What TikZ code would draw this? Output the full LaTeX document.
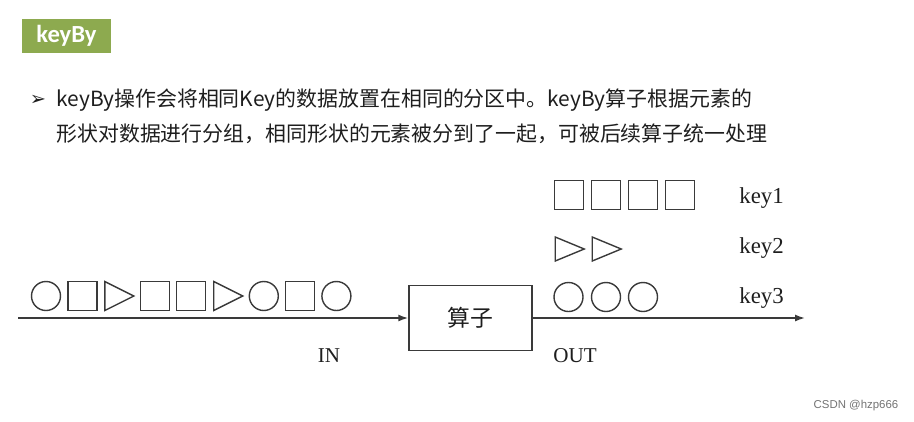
\documentclass[tikz,border=0pt]{standalone}
\usepackage{fontspec}
\setmainfont{Liberation Serif}
\newfontfamily\cjk{Noto Sans CJK SC}
\newfontfamily\tagfont{Carlito}
\newfontfamily\symfont{DejaVu Sans}
\newfontfamily\markfont{Liberation Sans}
\usepackage{tikz}
\usetikzlibrary{shapes.geometric,arrows.meta,positioning}
\definecolor{tagGreen}{HTML}{8DAA4F}
\definecolor{inkGray}{HTML}{3A3A3A}
\definecolor{textInk}{HTML}{1E1E1E}

\begin{document}
\begin{tikzpicture}[
  elcirc/.style={circle,draw=inkGray,line width=0.8pt,minimum size=0.58cm,inner sep=0pt},
  elsq/.style={rectangle,draw=inkGray,line width=0.8pt,minimum size=0.58cm,inner sep=0pt},
  eltri/.style={isosceles triangle,isosceles triangle stretches,draw=inkGray,
    line width=0.8pt,minimum width=0.58cm,minimum height=0.58cm,inner sep=0pt,
    anchor=west,xshift=-0.29cm},
  keylabel/.style={anchor=west,inner sep=0pt,text=textInk,font=\fontsize{13}{15}\selectfont},
  flow/.style={draw=inkGray,line width=0.85pt,-{Latex[length=2mm,width=1.4mm]}}
]
\useasboundingbox (0,0) rectangle (18.28,-8.42);

% Title tag and text
\node[fill=tagGreen,minimum width=1.78cm,minimum height=0.68cm,inner sep=0pt,text=white,
  font=\tagfont\bfseries\fontsize{14}{16}\selectfont] (tag) at (1.33,-0.72) {keyBy};
\node[inner sep=0pt,text=textInk,font=\symfont\bfseries\fontsize{11}{13}\selectfont] (bullet) at (0.76,-2.0) {➢};
\node[anchor=west,inner sep=0pt,text=textInk,font=\cjk\fontsize{11.9}{14}\selectfont] (line1) at (1.12,-2.0)
  {keyBy操作会将相同Key的数据放置在相同的分区中。keyBy算子根据元素的};
\node[anchor=west,inner sep=0pt,text=textInk,font=\cjk\fontsize{11.9}{14}\selectfont] (line2) at (1.12,-2.68)
  {形状对数据进行分组，相同形状的元素被分到了一起，可被后续算子统一处理};

% Input stream
\foreach \s [count=\i] in {elcirc,elsq,eltri,elsq,elsq,eltri,elcirc,elsq,elcirc}
  \node[\s] (in\i) at ({0.92+(\i-1)*0.726},-5.92) {};

% Operator
\coordinate (start) at (0.36,-6.36);
\coordinate (stop) at (16.10,-6.36);
\node[draw=inkGray,line width=0.85pt,minimum width=2.46cm,minimum height=1.30cm,
  font=\cjk\fontsize{13}{15}\selectfont,text=textInk] (op) at (9.41,-6.36) {算子};
\draw[flow] (start) -- (op.west);
\draw[flow] (op.east) -- (stop);
\node[text=textInk,font=\fontsize{12}{14}\selectfont] (inlbl) at (6.58,-7.12) {IN};
\node[text=textInk,font=\fontsize{12}{14}\selectfont] (outlbl) at (11.50,-7.12) {OUT};

% Output groups
\node[elsq] (ka1) at (11.38,-3.90) {};
\node[elsq] (ka2) at (12.12,-3.90) {};
\node[elsq] (ka3) at (12.86,-3.90) {};
\node[elsq] (ka4) at (13.60,-3.90) {};
\node[eltri,minimum width=0.48cm] (kb1) at (11.38,-4.98) {};
\node[eltri,minimum width=0.48cm] (kb2) at (12.12,-4.98) {};
\node[elcirc] (kc1) at (11.37,-5.94) {};
\node[elcirc] (kc2) at (12.12,-5.94) {};
\node[elcirc] (kc3) at (12.86,-5.94) {};
\node[keylabel] (key1) at (14.78,-3.96) {key1};
\node[keylabel] (key2) at (14.78,-4.96) {key2};
\node[keylabel] (key3) at (14.78,-5.96) {key3};

% Watermark
\node[text=black!55,font=\markfont\fontsize{6.5}{8}\selectfont] (mark) at (17.12,-8.12) {CSDN @hzp666};
\end{tikzpicture}
\end{document}
